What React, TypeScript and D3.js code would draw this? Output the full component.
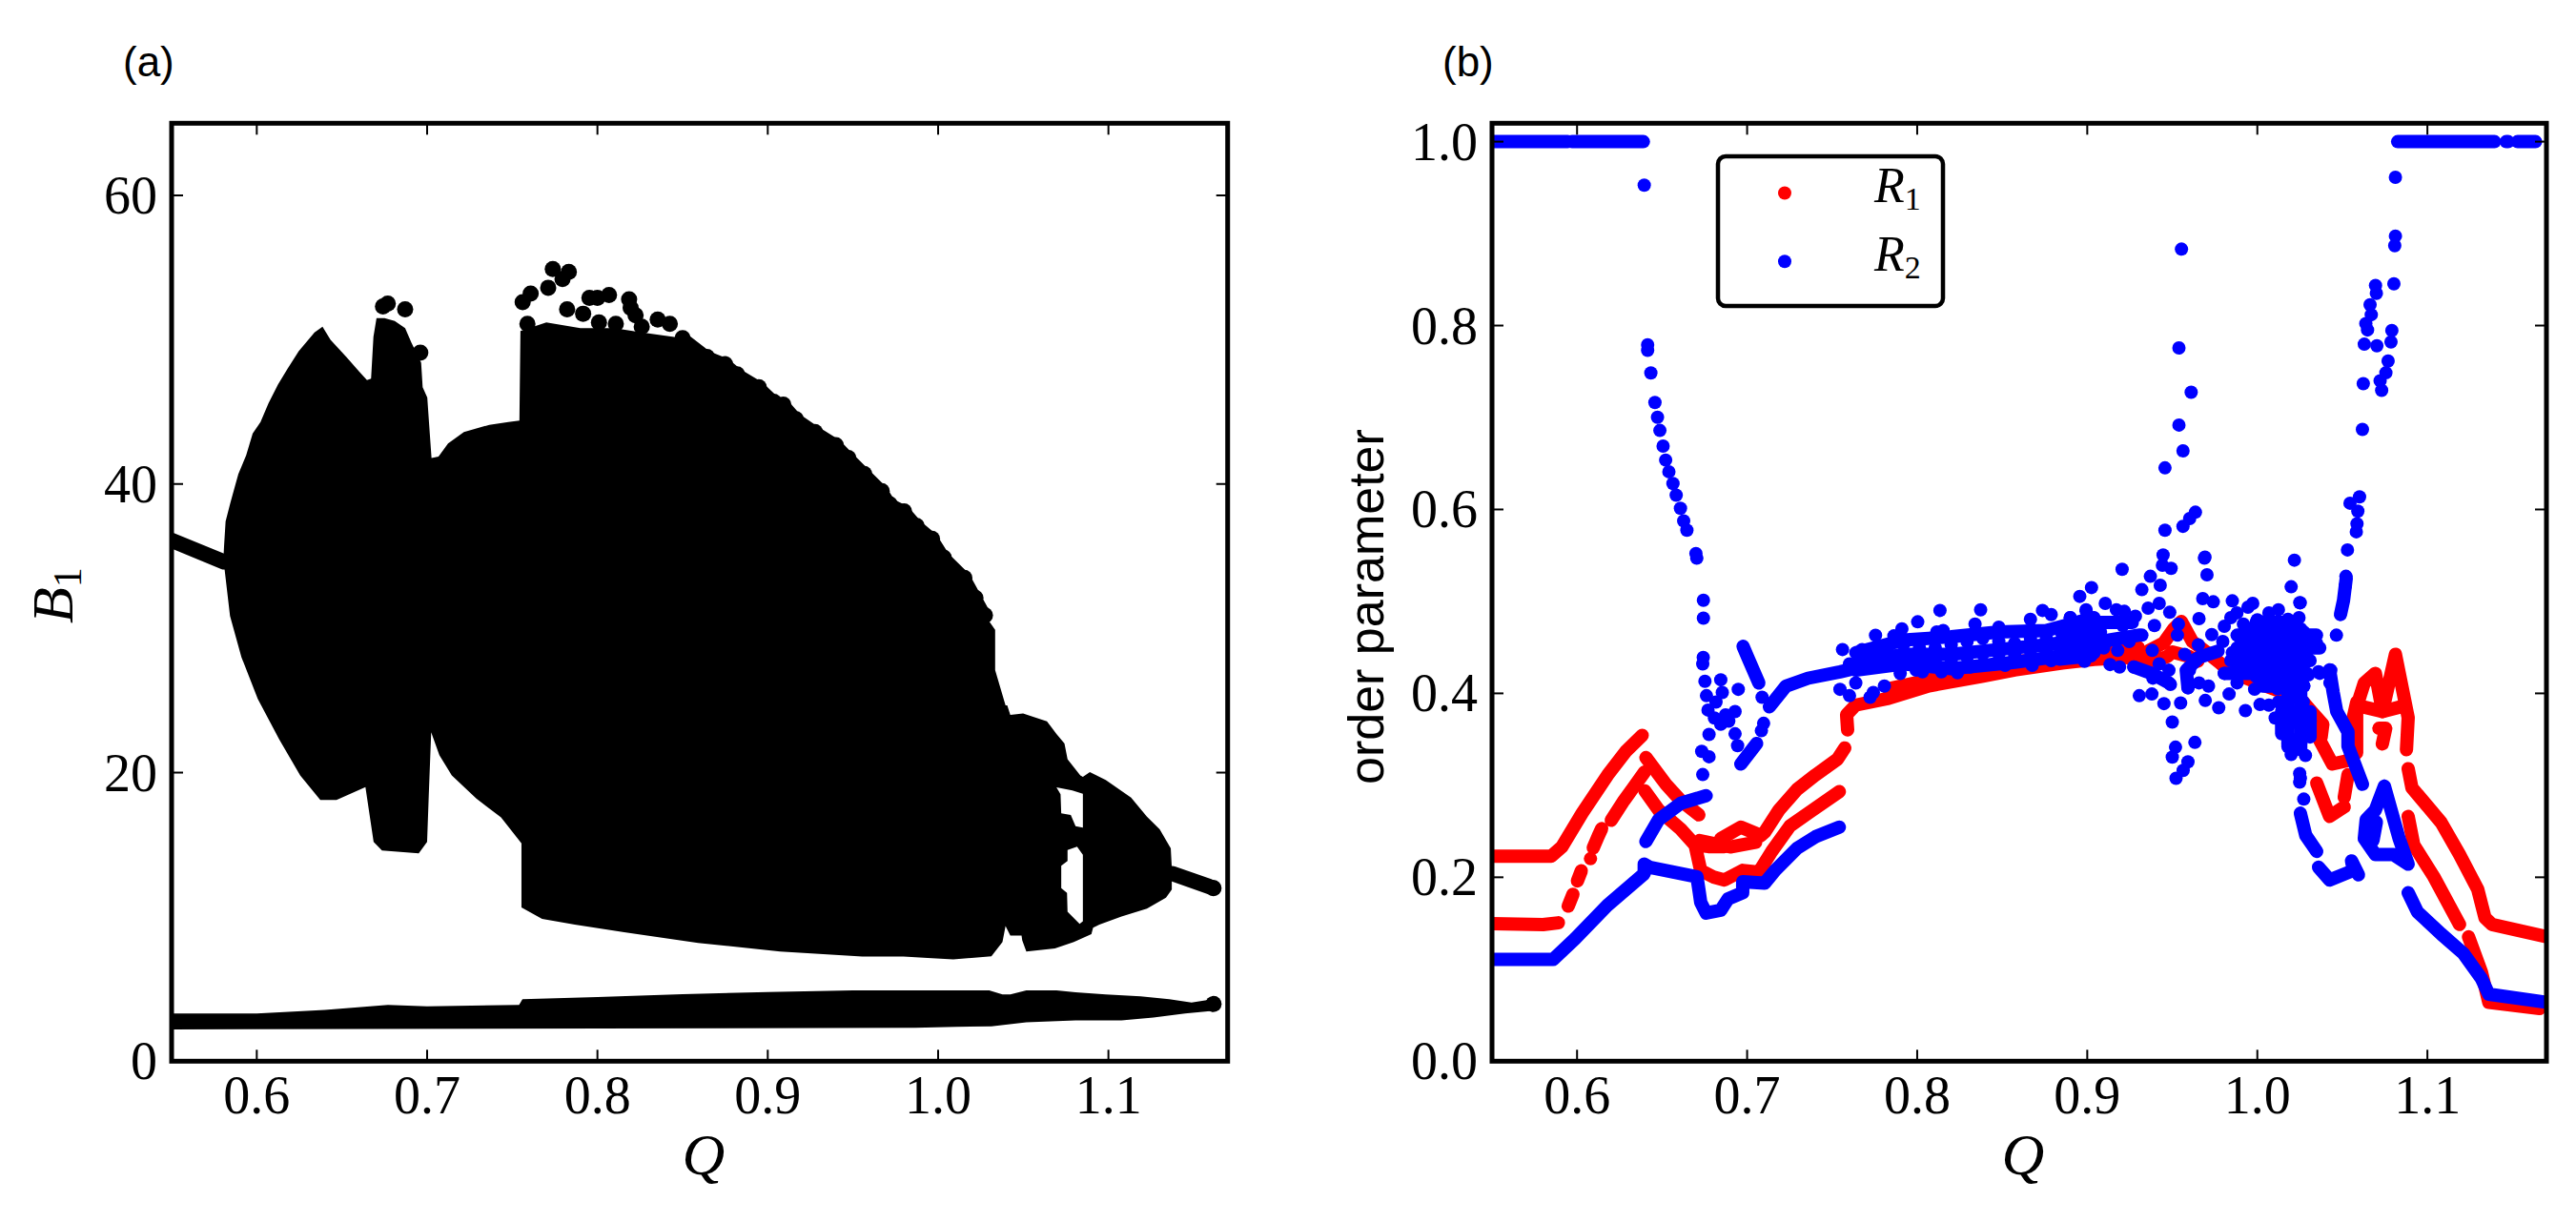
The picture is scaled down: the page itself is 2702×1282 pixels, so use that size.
import * as d3 from "d3";

type Pt = [number, number];

// ---- panel (a): B1 against Q ----
const qTicks = [0.6, 0.7, 0.8, 0.9, 1.0, 1.1];
const b1Ticks = [0, 20, 40, 60];

// outline of the solid chaotic region, clockwise from the left side
const chaosLeftUpper: Pt[] = [
  [0.5804, 34.8], [0.5808, 35.7], [0.5817, 37.4], [0.5845, 38.7], [0.5892, 40.7], [0.5938, 42.0],
  [0.5976, 43.5], [0.6022, 44.3], [0.6069, 45.6], [0.6125, 46.9], [0.6181, 48.0], [0.6246, 49.2],
  [0.6339, 50.5], [0.6386, 50.9], [0.6433, 50.0], [0.6526, 48.8], [0.6601, 47.8], [0.6647, 47.2],
  [0.6671, 47.3], [0.6685, 50.2], [0.6703, 51.5], [0.675, 51.5], [0.681, 51.3], [0.6871, 50.8],
  [0.6908, 49.8], [0.6965, 48.4], [0.6974, 46.7], [0.7001, 46.0], [0.7011, 44.3], [0.7026, 41.8],
  [0.7067, 41.9], [0.7123, 42.8], [0.7216, 43.6], [0.7365, 44.1], [0.7477, 44.3], [0.7542, 44.4],
  [0.7548, 50.6], [0.77, 51.2], [0.79, 50.8], [0.81, 50.8], [0.826, 50.5],
];
const chaosCrest: Pt[] = [
  [0.85, 50.1], [0.8643, 48.8], [0.8749, 48.3], [0.882, 47.6], [0.8947, 46.7], [0.9035, 45.7],
  [0.9091, 45.5], [0.9165, 44.5], [0.9277, 43.6], [0.9399, 42.7], [0.9473, 41.8], [0.9566, 40.7],
  [0.9669, 39.5], [0.9716, 38.6], [0.98, 38.1], [0.9874, 37.1], [0.9964, 36.2], [1.0033, 34.9],
  [1.0154, 33.5], [1.0219, 32.1], [1.0275, 30.9],
];
const chaosRight: Pt[] = [
  [1.0335, 29.9], [1.0335, 27.1], [1.0396, 24.66], [1.0406, 24.66], [1.0424, 24.0], [1.0499, 24.1],
  [1.0639, 23.56], [1.0695, 22.68], [1.0742, 22.02], [1.076, 20.92], [1.0835, 19.8], [1.085, 19.7],
  [1.0891, 20.04], [1.0984, 19.49], [1.1133, 18.27], [1.1226, 16.95], [1.1301, 16.07], [1.1366, 14.75],
  [1.1372, 13.43], [1.1372, 11.89], [1.1338, 11.34], [1.1226, 10.57], [1.1077, 10.02], [1.0947, 9.47],
  [1.091, 9.25], [1.09, 8.81], [1.0797, 8.26], [1.0686, 7.82], [1.0518, 7.6], [1.0494, 8.37],
  [1.049, 8.7], [1.0424, 8.7], [1.0396, 9.36], [1.0378, 8.26], [1.0313, 7.27],
];
const chaosLower: Pt[] = [
  [1.0089, 7.05], [0.9939, 7.16], [0.9797, 7.25], [0.9555, 7.25], [0.9073, 7.6], [0.8591, 8.2],
  [0.8157, 8.94], [0.7867, 9.46], [0.7675, 9.86], [0.7554, 10.65], [0.7554, 15.1], [0.7434, 16.9],
  [0.7289, 18.2], [0.7145, 19.8], [0.7072, 21.2], [0.7024, 22.8], [0.701, 18.5], [0.7, 15.2],
  [0.6951, 14.4], [0.6735, 14.6], [0.6686, 15.2], [0.6638, 19.0], [0.6468, 18.1], [0.6373, 18.1],
  [0.6255, 19.8], [0.6132, 22.3], [0.6006, 25.1], [0.591, 28.0], [0.5843, 30.85],
];
const gapUpper: Pt[] = [
  [1.0695, 18.98], [1.0788, 18.76], [1.085, 18.54], [1.085, 16.18], [1.0807, 16.29], [1.0779, 17.06],
  [1.0723, 17.17], [1.0719, 18.5],
];
const gapLower: Pt[] = [
  [1.076, 14.64], [1.0816, 14.86], [1.085, 14.31], [1.085, 9.69], [1.0831, 9.51], [1.076, 10.35],
  [1.0757, 11.67], [1.0723, 12.0], [1.0723, 13.54], [1.076, 13.87],
];
// the thin band near the bottom
const lowBand: Pt[] = [
  [0.55, 3.3], [0.6, 3.3], [0.64, 3.55], [0.677, 3.9], [0.7, 3.8], [0.754, 3.9], [0.756, 4.3],
  [0.8, 4.45], [0.85, 4.65], [0.9, 4.8], [0.95, 4.9], [1.03, 4.91], [1.0378, 4.62], [1.0424, 4.62],
  [1.0518, 4.91], [1.0695, 4.91], [1.0807, 4.78], [1.0984, 4.62], [1.1189, 4.5], [1.1357, 4.29],
  [1.1488, 4.07], [1.1617, 4.3], [1.1617, 3.5], [1.145, 3.3], [1.1264, 3.02], [1.1077, 2.82], [1.0807, 2.82],
  [1.0518, 2.69], [1.0313, 2.42], [1.0107, 2.38], [0.9865, 2.31], [0.8, 2.27], [0.55, 2.2],
];
const fixedPointLeft: Pt[] = [[0.55, 36.1], [0.5808, 34.6]];
const fixedPointRight: Pt[] = [[1.1376, 13.0], [1.1617, 12.0]];
// single points that stick out above the solid region
const b1TopPoints: Pt[] = [
  [0.6741, 52.3], [0.6769, 52.5], [0.6871, 52.1], [0.696, 49.1], [0.7561, 52.6], [0.7589, 51.1],
  [0.7608, 53.2], [0.7711, 53.6], [0.7738, 54.9], [0.7795, 54.2], [0.7832, 54.7], [0.7822, 52.1],
  [0.7916, 51.8], [0.7953, 52.9], [0.8, 52.9], [0.8009, 51.2], [0.8068, 53.1], [0.8108, 51.1],
  [0.8186, 52.8], [0.8195, 52.2], [0.8224, 51.7], [0.826, 50.9], [0.8354, 51.4], [0.8425, 51.1],
  ...chaosCrest,
  [1.1617, 3.96], [1.1617, 12.0],
];

// ---- panel (b): order parameters ----
const orderTicks = [0, 0.2, 0.4, 0.6, 0.8, 1.0];

// R1: dense runs of points
const r1Runs: Pt[][] = [
  [[0.55, 0.223], [0.5848, 0.223], [0.5912, 0.2334], [0.603, 0.2697], [0.618, 0.3112], [0.6287, 0.337], [0.6383, 0.3544]],
  [[0.55, 0.1497], [0.58, 0.1485], [0.589, 0.1505]],
  [[0.5948, 0.1687], [0.5976, 0.1815]],
  [[0.6002, 0.196], [0.6025, 0.207]],
  [[0.6079, 0.2202]],
  [[0.6095, 0.232], [0.6125, 0.245], [0.6145, 0.253]],
  [[0.6201, 0.262], [0.6276, 0.2835], [0.633, 0.2973], [0.6397, 0.3146]],
  [[0.6405, 0.3302], [0.6523, 0.3011], [0.6609, 0.2835], [0.6716, 0.2679]],
  [[0.6399, 0.2939], [0.648, 0.2731], [0.6609, 0.2524], [0.6694, 0.2351], [0.6727, 0.2075], [0.68, 0.2005],
    [0.6867, 0.1971], [0.6974, 0.2075], [0.7069, 0.2057], [0.7145, 0.2282], [0.7252, 0.2558], [0.7359, 0.2697], [0.7542, 0.2932]],
  [[0.6694, 0.2351], [0.6772, 0.2334], [0.6867, 0.2334], [0.6845, 0.242], [0.6963, 0.2545], [0.7081, 0.2454],
    [0.7103, 0.249], [0.7187, 0.2731], [0.7294, 0.2956], [0.7402, 0.3112], [0.7531, 0.3284], [0.7574, 0.3406]],
  [[0.672, 0.24], [0.69, 0.233], [0.705, 0.238]],
  [[0.7591, 0.3603], [0.7585, 0.3769], [0.7638, 0.3872], [0.7832, 0.3946], [0.8069, 0.4082], [0.8386, 0.4186],
    [0.8573, 0.4255], [0.8853, 0.433], [0.904, 0.437], [0.934, 0.44]],
  [[0.7832, 0.405], [0.82, 0.42], [0.86, 0.435], [0.9, 0.44], [0.93, 0.45]],
  [[0.9359, 0.446], [0.945, 0.455], [0.9508, 0.4702], [0.9553, 0.4782], [0.9618, 0.4564], [0.97, 0.445], [0.9788, 0.4319]],
  [[0.925, 0.438], [0.934, 0.432], [0.947, 0.44], [0.95, 0.445], [0.96, 0.44], [0.965, 0.435]],
  [[0.9788, 0.4319], [0.9844, 0.4235], [1.0049, 0.408], [1.0255, 0.394], [1.032, 0.38], [1.0385, 0.3664], [1.0375, 0.352]],
  [[1.0367, 0.349], [1.0441, 0.3232], [1.0525, 0.3266], [1.0584, 0.3354], [1.0584, 0.39], [1.0564, 0.3737], [1.0629, 0.4114],
    [1.0694, 0.4218], [1.0736, 0.3803], [1.0812, 0.4425], [1.0887, 0.3737], [1.0877, 0.3388]],
  [[1.0629, 0.385], [1.0736, 0.3803], [1.0835, 0.385]],
  [[1.0715, 0.362], [1.0755, 0.362], [1.0735, 0.345]],
  [[1.0349, 0.3025], [1.0425, 0.2662], [1.0511, 0.2766]],
  [[1.0533, 0.3115], [1.0511, 0.2869]],
  [[1.0887, 0.3181], [1.0909, 0.2973], [1.1081, 0.2596], [1.1189, 0.2247], [1.1296, 0.187], [1.1339, 0.1559], [1.138, 0.1487], [1.1705, 0.1352]],
  [[1.0887, 0.2662], [1.092, 0.2351], [1.1038, 0.2005], [1.1189, 0.1487]],
  [[1.1242, 0.1352], [1.1318, 0.0968], [1.1361, 0.0639], [1.166, 0.0574]],
];

// R2: dense runs of points
const r2Runs: Pt[][] = [
  [[0.55, 1.0], [0.5945, 1.0]],
  [[0.597, 1.0], [0.639, 1.0]],
  [[1.0825, 1.0], [1.1395, 1.0]],
  [[1.1463, 1.0], [1.1475, 1.0]],
  [[1.153, 1.0], [1.1636, 1.0]],
  [[0.55, 0.1106], [0.5859, 0.1106], [0.5988, 0.1331], [0.6178, 0.1694], [0.6395, 0.2039], [0.6395, 0.2143], [0.6427, 0.2109],
    [0.6705, 0.2005], [0.6716, 0.187], [0.6727, 0.1728], [0.6759, 0.1611], [0.6845, 0.1642], [0.6888, 0.1766], [0.6974, 0.1832],
    [0.6974, 0.1953], [0.7103, 0.1936], [0.7166, 0.2078], [0.7294, 0.2316], [0.7402, 0.2441], [0.7542, 0.2545]],
  [[0.6405, 0.2389], [0.648, 0.2628], [0.6609, 0.2804], [0.6759, 0.2887]],
  [[0.6976, 0.4511], [0.7004, 0.439], [0.7069, 0.4113]],
  [[0.7131, 0.3854], [0.7228, 0.4079], [0.7359, 0.4165], [0.7546, 0.4234], [0.77, 0.43]],
  [[0.7056, 0.3456], [0.6963, 0.3231]],
  [[1.0425, 0.4256], [1.0446, 0.401], [1.0467, 0.3803], [1.0533, 0.3582], [1.0533, 0.3426], [1.0618, 0.3011]],
  [[1.0253, 0.2697], [1.0285, 0.2454], [1.0349, 0.2282]],
  [[1.036, 0.2109], [1.0425, 0.1971], [1.0565, 0.2075], [1.0554, 0.2178], [1.0595, 0.2026]],
  [[1.0747, 0.2991], [1.0834, 0.242], [1.0887, 0.2143], [1.0801, 0.2247], [1.0694, 0.2247], [1.0629, 0.242], [1.064, 0.2627], [1.0694, 0.2731], [1.0747, 0.2991]],
  [[1.064, 0.255], [1.068, 0.24], [1.07, 0.26]],
  [[1.0887, 0.1832], [1.0941, 0.1625], [1.1081, 0.1383], [1.121, 0.1175], [1.1318, 0.0898], [1.1361, 0.0729], [1.1705, 0.0639]],
  [[1.0523, 0.5255], [1.0507, 0.5013], [1.0489, 0.4858]],
];

// R2: the overlapping points of the cloud, taken as runs
const r2CloudRuns: Pt[][] = [
  [[0.7639, 0.4442], [0.7919, 0.458], [0.82, 0.4615], [0.848, 0.4667], [0.876, 0.4684], [0.904, 0.4823]],
  [[0.7639, 0.4321], [0.7919, 0.4425], [0.82, 0.4425], [0.848, 0.4477], [0.876, 0.4529], [0.904, 0.4598]],
  [[0.7639, 0.4252], [0.7919, 0.4321], [0.82, 0.4269], [0.8573, 0.4338], [0.8853, 0.4408], [0.904, 0.4442]],
  [[0.8835, 0.4702], [0.9022, 0.4771], [0.9265, 0.4771]],
  [[0.8835, 0.4529], [0.9078, 0.4564], [0.9302, 0.4633]],
  [[0.8835, 0.4373], [0.9022, 0.4408]],
  [[0.9993, 0.4771], [1.0217, 0.4771]],
  [[0.9881, 0.4633], [1.0348, 0.4633]],
  [[0.9881, 0.4494], [1.0367, 0.4494]],
  [[0.9844, 0.4356], [1.031, 0.4356]],
  [[0.9806, 0.4218], [1.0292, 0.4218]],
  [[1.003, 0.4079], [1.0273, 0.4079]],
  [[1.018, 0.401], [1.018, 0.3422]],
  [[1.0255, 0.401], [1.0255, 0.3387]],
  [[1.0143, 0.3802], [1.0143, 0.356]],
  [[1.031, 0.3802], [1.031, 0.3526]],
  [[0.9592, 0.4062], [0.9582, 0.4252], [0.9657, 0.4391], [0.9769, 0.446]],
  [[0.9274, 0.4287], [0.9377, 0.4218], [0.948, 0.4114]],
];

// R2: separate points
const r2Points: Pt[] = [
  // falling branch after Q = 0.64
  [0.6395, 0.9526], [0.6415, 0.779], [0.6415, 0.7731], [0.6434, 0.7485], [0.6458, 0.7164], [0.6473, 0.7003], [0.6487, 0.6859],
  [0.6506, 0.6689], [0.6521, 0.6537], [0.654, 0.641], [0.6564, 0.6283], [0.6583, 0.6156], [0.6608, 0.6012], [0.6627, 0.5876],
  [0.6646, 0.5775], [0.6699, 0.5521], [0.6704, 0.547], [0.6743, 0.5013], [0.6743, 0.4818],
  // cluster near Q = 0.68
  [0.6742, 0.439], [0.6739, 0.4321], [0.6752, 0.4131], [0.6845, 0.4148], [0.6761, 0.3975], [0.6948, 0.4044], [0.677, 0.3819],
  [0.6817, 0.3906], [0.6854, 0.401], [0.6873, 0.3767], [0.6929, 0.3802], [0.6808, 0.3733], [0.6845, 0.3664], [0.6892, 0.3698],
  [0.6776, 0.3553], [0.6929, 0.356], [0.6944, 0.3432], [0.6733, 0.3369], [0.6776, 0.3311], [0.6739, 0.3117],
  [0.7088, 0.3958], [0.7097, 0.3674], [0.7084, 0.3594],
  // main cloud
  [0.7561, 0.4477], [0.7676, 0.4477], [0.7602, 0.4321], [0.7755, 0.4632], [0.791, 0.4702], [0.8003, 0.4778], [0.7863, 0.4625],
  [0.8134, 0.4902], [0.8373, 0.4909], [0.8153, 0.4684], [0.8115, 0.4667], [0.834, 0.4753], [0.848, 0.4719], [0.8666, 0.4805],
  [0.8737, 0.4902], [0.8788, 0.4857], [0.89, 0.4823], [0.8956, 0.5055], [0.9025, 0.5151], [0.8993, 0.4909], [0.7546, 0.4044],
  [0.7602, 0.3975], [0.7723, 0.3958], [0.7807, 0.4079], [0.79, 0.4217], [0.7742, 0.401], [0.7639, 0.4113], [0.7658, 0.4321],
  [0.7751, 0.439], [0.7826, 0.4459], [0.7919, 0.4529], [0.8013, 0.4494], [0.8106, 0.4494], [0.82, 0.4529], [0.8293, 0.4563],
  [0.8386, 0.4598], [0.848, 0.4563], [0.8573, 0.4546], [0.8666, 0.4598], [0.876, 0.4598], [0.8853, 0.4632], [0.8947, 0.4632],
  [0.9021, 0.4667], [0.7994, 0.4252], [0.8031, 0.4234], [0.8143, 0.4234], [0.8237, 0.4224], [0.8311, 0.4286], [0.8452, 0.4321],
  [0.8517, 0.4304], [0.8676, 0.4304], [0.8788, 0.4356], [0.8984, 0.4349], [0.7826, 0.4321], [0.7919, 0.4356], [0.8013, 0.4356],
  [0.8106, 0.4356], [0.82, 0.4356], [0.8293, 0.439], [0.8386, 0.4425], [0.848, 0.4425], [0.8573, 0.4425], [0.8666, 0.4459],
  [0.876, 0.4459], [0.8853, 0.4459], [0.8947, 0.4494], [0.9021, 0.4494],
  [0.89, 0.4823], [0.8994, 0.4892], [0.9106, 0.4979], [0.9171, 0.491], [0.9218, 0.4892], [0.9283, 0.484], [0.9321, 0.4633],
  [0.9209, 0.4737], [0.9153, 0.4771], [0.9078, 0.4667], [0.9003, 0.4702], [0.8947, 0.4737], [0.8891, 0.4667], [0.8854, 0.4564],
  [0.8947, 0.4529], [0.9022, 0.4598], [0.9115, 0.4564], [0.8984, 0.4356], [0.8872, 0.4391], [0.9246, 0.4564], [0.8928, 0.4425],
  // scatter around Q = 0.95
  [0.9446, 0.5505], [0.9493, 0.5359], [0.9442, 0.5394], [0.9205, 0.5349], [0.9371, 0.5273], [0.9429, 0.5176], [0.9321, 0.5128],
  [0.9692, 0.5481], [0.9704, 0.529], [0.9679, 0.5031], [0.9741, 0.4996], [0.9853, 0.5006], [0.9657, 0.4813], [0.9485, 0.4882],
  [0.9423, 0.4979], [0.9358, 0.4927], [0.9536, 0.4754], [0.953, 0.4633], [0.9395, 0.4737], [0.9973, 0.4979], [0.9945, 0.4937],
  [0.988, 0.4875], [0.9844, 0.4823], [0.9806, 0.473], [0.9918, 0.4754], [0.9732, 0.464], [0.9797, 0.4564], [0.9853, 0.4443],
  [0.9653, 0.4529], [0.9573, 0.4425], [0.9382, 0.4467], [0.9179, 0.4467], [0.9097, 0.4494], [0.9134, 0.4314], [0.919, 0.4287],
  [0.9274, 0.4287], [0.9423, 0.4321], [0.948, 0.4252], [0.9489, 0.4097], [0.9386, 0.4166], [0.9306, 0.3975], [0.938, 0.3993],
  [0.9451, 0.3889], [0.9549, 0.3896], [0.95, 0.3688], [0.9633, 0.3467], [0.9519, 0.3415], [0.95, 0.3308], [0.9592, 0.3256],
  [0.9564, 0.3162], [0.9522, 0.3076], [0.9773, 0.3844], [0.993, 0.3813], [1.0016, 0.3879], [0.9694, 0.3923], [0.9713, 0.4079],
  [0.9592, 0.4062], [0.9601, 0.4252], [0.9638, 0.4373], [0.9657, 0.4114], [0.9834, 0.3993], [0.9984, 0.4045], [0.9806, 0.4218],
  [0.9881, 0.4114],
  // the spike above the cloud
  [0.9554, 0.8831], [0.9539, 0.7756], [0.9611, 0.7274], [0.9539, 0.6918], [0.9563, 0.6638], [0.9457, 0.6452],
  [0.9457, 0.5775], [0.9563, 0.5817], [0.9602, 0.5902], [0.9636, 0.597], [0.9689, 0.547],
  // dense knot near Q = 1.01
  [1.0105, 0.3733], [1.0199, 0.3335], [1.0283, 0.3325], [1.0161, 0.3578], [1.0292, 0.3578], [1.018, 0.3456], [1.0255, 0.3456],
  [1.0143, 0.3699], [1.0311, 0.3699], [1.0217, 0.3802], [1.027, 0.3906], [1.0273, 0.4079], [1.033, 0.4529], [1.0348, 0.4546],
  [1.0255, 0.4702], [1.0245, 0.4823], [1.025, 0.4986], [1.0124, 0.491], [1.0068, 0.4875], [1.018, 0.4806], [1.0273, 0.4667],
  [0.9956, 0.4425], [1.0031, 0.4356], [1.0105, 0.4218], [1.018, 0.4287], [1.0236, 0.4218], [0.9956, 0.4702], [1.0049, 0.4702],
  [1.0143, 0.4598], [1.0236, 0.446], [0.9918, 0.4529], [0.9993, 0.4183], [1.0068, 0.4529], [1.0143, 0.439], [1.0161, 0.4079],
  [1.0217, 0.3975], [1.0124, 0.3906], [1.0068, 0.3872], [1.0367, 0.4218], [1.0432, 0.4252], [1.0427, 0.4114], [0.99, 0.46],
  [0.999, 0.459], [1.003, 0.45], [1.01, 0.45], [1.018, 0.45], [1.004, 0.425], [1.012, 0.405], [1.006, 0.408], [1.018, 0.39],
  [1.025, 0.43], [1.029, 0.445], [1.03, 0.42], [1.02, 0.465], [1.012, 0.476], [1.0, 0.48], [1.025, 0.38], [1.02, 0.37],
  [1.025, 0.365], [1.028, 0.37], [1.023, 0.35], [1.024, 0.34], [0.995, 0.425], [1.0218, 0.5449], [1.0199, 0.5159],
  [1.0252, 0.4985], [1.0249, 0.3128], [1.0249, 0.3034], [1.0273, 0.285], [1.0253, 0.3077], [1.036, 0.4235],
  // rising branch before Q = 1.08
  [1.0465, 0.4633], [1.053, 0.556], [1.0521, 0.5273], [1.0517, 0.5169], [1.0582, 0.5757], [1.0586, 0.5844], [1.0591, 0.5981],
  [1.0545, 0.6068], [1.0601, 0.6137], [1.0618, 0.687], [1.0623, 0.7368], [1.0629, 0.7797], [1.0638, 0.8022], [1.0648, 0.7952],
  [1.0663, 0.8226], [1.067, 0.8118], [1.0695, 0.8437], [1.07, 0.835], [1.0703, 0.778], [1.0722, 0.74], [1.0731, 0.7295],
  [1.0756, 0.7486], [1.0769, 0.7614], [1.0786, 0.7821], [1.0791, 0.7946], [1.0803, 0.8454], [1.0808, 0.8869], [1.0812, 0.8973],
  [1.0812, 0.9612],
];
const legendLabels = ["1", "2"];

const TOP = 129.3;
const BOTTOM = 1113.3;
const TICK = 12;
const LABEL = "'Liberation Serif', serif";
const SANS = "'Liberation Sans', sans-serif";

const xA = d3.scaleLinear().domain([0.55, 1.17]).range([180, 1287.7]);
const yA = d3.scaleLinear().domain([0, 65]).range([BOTTOM, TOP]);
const xB = d3.scaleLinear().domain([0.55, 1.17]).range([1565, 2671]);
const yB = d3.scaleLinear().domain([0, 1.02]).range([BOTTOM, TOP]);

function Frame({ x, y, xt, yt, fmt }: {
  x: d3.ScaleLinear<number, number>;
  y: d3.ScaleLinear<number, number>;
  xt: number[];
  yt: number[];
  fmt: (v: number) => string;
}) {
  const [x0, x1] = x.range();
  return (
    <g>
      <rect x={x0} y={TOP} width={x1 - x0} height={BOTTOM - TOP} fill="none" stroke="#000" strokeWidth={5} />
      {xt.map((t) => (
        <g key={t} stroke="#000" strokeWidth={2}>
          <line x1={x(t)} x2={x(t)} y1={BOTTOM} y2={BOTTOM - TICK} />
          <line x1={x(t)} x2={x(t)} y1={TOP} y2={TOP + TICK} />
        </g>
      ))}
      {yt.map((t) => (
        <g key={t} stroke="#000" strokeWidth={2}>
          <line x1={x0} x2={x0 + TICK} y1={y(t)} y2={y(t)} />
          <line x1={x1} x2={x1 - TICK} y1={y(t)} y2={y(t)} />
        </g>
      ))}
      {xt.map((t) => (
        <text key={t} x={x(t)} y={1168} textAnchor="middle" fontFamily={LABEL} fontSize={56}>
          {t.toFixed(1)}
        </text>
      ))}
      {yt.map((t) => (
        <text key={t} x={x0 - 15} y={y(t) + 19} textAnchor="end" fontFamily={LABEL} fontSize={56}>
          {fmt(t)}
        </text>
      ))}
    </g>
  );
}

export default function App() {
  const lineA = d3.line<Pt>().x((d) => xA(d[0])).y((d) => yA(d[1]));
  const lineB = d3.line<Pt>().x((d) => xB(d[0])).y((d) => yB(d[1]));

  const chaosPath =
    lineA([...chaosLeftUpper, ...chaosCrest, ...chaosRight, ...chaosLower]) + "Z" +
    lineA(gapUpper) + "Z" +
    lineA(gapLower) + "Z";

  return (
    <svg width={2702} height={1282} style={{ position: "absolute", left: 0, top: 0, background: "#fff" }}>
      <defs>
        <clipPath id="clipA">
          <rect x={180} y={TOP} width={1107.7} height={BOTTOM - TOP} />
        </clipPath>
        <clipPath id="clipB">
          <rect x={1565} y={TOP} width={1106} height={BOTTOM - TOP} />
        </clipPath>
      </defs>

      {/* (a) */}
      <g clipPath="url(#clipA)">
        <path d={chaosPath} fill="#000" fillRule="evenodd" />
        <path d={lineA(lowBand) + "Z"} fill="#000" />
        <path d={lineA(chaosCrest) ?? ""} fill="none" stroke="#000" strokeWidth={13} />
        {[fixedPointLeft, fixedPointRight].map((run, i) => (
          <path key={i} d={lineA(run) ?? ""} fill="none" stroke="#000" strokeWidth={16} strokeLinecap="round" />
        ))}
        {b1TopPoints.map((d, i) => (
          <circle key={i} cx={xA(d[0])} cy={yA(d[1])} r={8.5} fill="#000" />
        ))}
      </g>
      <Frame x={xA} y={yA} xt={qTicks} yt={b1Ticks} fmt={(v) => String(v)} />
      <text x={129} y={80} fontFamily={SANS} fontSize={44}>(a)</text>
      <text x={738} y={1232} textAnchor="middle" fontFamily={LABEL} fontStyle="italic" fontSize={62}>Q</text>
      <text transform="translate(76,654) rotate(-90)" fontFamily={LABEL} fontSize={62}>
        <tspan fontStyle="italic">B</tspan>
        <tspan dy={9} fontSize={42}>1</tspan>
      </text>

      {/* (b) */}
      <g clipPath="url(#clipB)">
        {r1Runs.map((run, i) => (
          <path key={i} d={lineB(run) ?? ""} fill="none" stroke="#f00" strokeWidth={14} strokeLinecap="round" strokeLinejoin="round" />
        ))}
        {[...r2Runs, ...r2CloudRuns].map((run, i) => (
          <path key={i} d={lineB(run) ?? ""} fill="none" stroke="#00f" strokeWidth={14} strokeLinecap="round" strokeLinejoin="round" />
        ))}
        {r2Points.map((d, i) => (
          <circle key={i} cx={xB(d[0])} cy={yB(d[1])} r={7} fill="#00f" />
        ))}
      </g>
      <Frame x={xB} y={yB} xt={qTicks} yt={orderTicks} fmt={(v) => v.toFixed(1)} />
      <text x={1513} y={80} fontFamily={SANS} fontSize={44}>(b)</text>
      <text x={2122} y={1232} textAnchor="middle" fontFamily={LABEL} fontStyle="italic" fontSize={62}>Q</text>
      <text transform="translate(1451,823) rotate(-90)" fontFamily={SANS} fontSize={52}>order parameter</text>

      {/* legend */}
      <rect x={1802} y={164} width={236} height={157} rx={8} fill="#fff" stroke="#000" strokeWidth={4.5} />
      {legendLabels.map((label, i) => (
        <g key={label}>
          <circle cx={1872} cy={202.5 + i * 71.7} r={7} fill={i === 0 ? "#f00" : "#00f"} />
          <text x={1966} y={212 + i * 71.7} fontFamily={LABEL} fontSize={52}>
            <tspan fontStyle="italic">R</tspan>
            <tspan dy={8} fontSize={34}>{label}</tspan>
          </text>
        </g>
      ))}
    </svg>
  );
}
